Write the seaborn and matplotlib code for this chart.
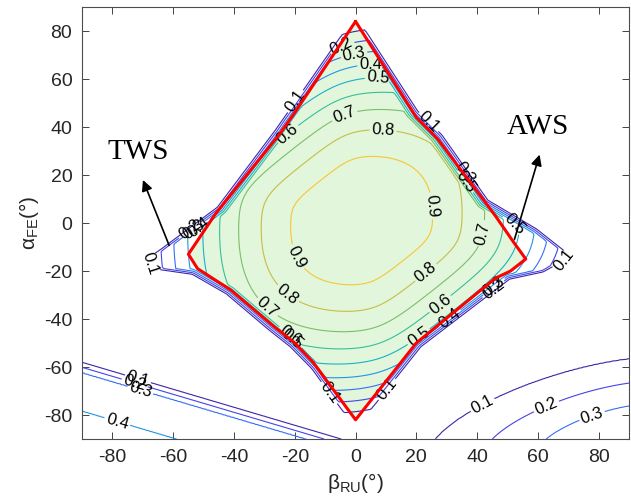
import numpy as np
import matplotlib
matplotlib.use("Agg")
import matplotlib.pyplot as plt
from matplotlib.path import Path
from matplotlib.colors import LinearSegmentedColormap, Normalize
import seaborn as sns

# red workspace outline (beta_RU, alpha_FE), degrees
red_beta = [0, 20, 27, 46, 52, 56, 51, 46, 20, 0, -14, -20, -27, -41, -52, -55, -46, -25, -20, 0]
red_alpha = [84, 44, 35, 3, -8, -15, -20, -23, -50, -82, -58, -50, -43, -28, -19, -13, 4, 37, 46, 84]

# outer edge of the contoured region (with the two thin wings)
dom_beta = [0, 21, 29, 44, 60, 72, 62, 51, 22, 0, -15, -22, -29, -43, -54, -65, -72, -64, -46, -27, -22]
dom_alpha = [88, 47, 37, 10, -2, -14, -21, -24, -52, -87, -61, -52, -45, -30, -22, -20, -17, -10, 7, 39, 48]

levels = [0.1, 0.2, 0.3, 0.4, 0.5, 0.6, 0.7, 0.8, 0.9]

# inner plateau (rounded square, cut on the NW/SE diagonal)
bump_center = (2, 1)
bump_half = (74, 85)
bump_power = 2.7
bump_diag = 68
edge_slope = 0.15

# lower-left band: offsets of the 0.1/0.2/0.3/0.4 lines from the 0.1 line
bl_line = [(-90, -58), (-10, -88)]
bl_offset = [-8, 0, 2, 4, 19, 40]
bl_value = [-0.5, 0.1, 0.2, 0.3, 0.4, 0.45]

# lower-right arcs around the corner
br_corner = (95, -95)
br_half = (71, 39)
br_radius = [0.3, 0.5, 0.74, 1.0, 1.3]
br_value = [0.35, 0.3, 0.2, 0.1, -0.3]

parula = ['#3e26a8', '#4748f0', '#2c7cf5', '#1ca2dd', '#1bbbb5',
          '#5cc277', '#b5bd4a', '#f5c038', '#f9fb0e']
cmap = LinearSegmentedColormap.from_list('parula', parula)
norm = Normalize(0.1, 1.0)

# label spots for each level
label_spots = {
    0.1: [(-19, 50), (24, 42), (-68, -17), (69, -16), (-10, -72), (10, -69), (-72, -67), (43, -78)],
    0.2: [(-5, 75), (-73, -68), (63, -77), (45, -27), (-55, -2)],
    0.3: [(-1, 73), (-71, -70), (78, -81), (47, -29), (-53, -3), (36, 21)],
    0.4: [(5, 66), (30, -38), (-78, -81), (-52, -1)],
    0.5: [(7.5, 60), (20, -46), (52, -1), (-22, -50), (38, 19)],
    0.6: [(-21, 35), (28, -34), (-23, -49)],
    0.7: [(-4, 46), (-29, -35), (48, -6)],
    0.8: [(9, 38), (24, -22), (-22, -29)],
    0.9: [(24, 7), (-19, -14)],
}

sns.set_theme(style="ticks")
plt.rcParams["font.family"] = ["Liberation Sans", "DejaVu Sans"]
plt.rcParams["mathtext.default"] = "regular"
plt.rcParams["axes.unicode_minus"] = False

bb, aa = np.meshgrid(np.arange(-90, 90.25, 0.5), np.arange(-90, 90.25, 0.5))

# inner plateau
x0 = bb - bump_center[0]
y0 = aa - bump_center[1]
sq = ((np.abs(x0) / bump_half[0]) ** bump_power
      + (np.abs(y0) / bump_half[1]) ** bump_power) ** (2 / bump_power)
dg = ((y0 - x0) / np.sqrt(2) / bump_diag) ** 2
v_in = 1 - (sq ** 6 + dg ** 6) ** (1 / 6)

# signed distance to the domain edge
pts = np.column_stack([bb.ravel(), aa.ravel()])
vx = np.array(dom_beta, float)
vy = np.array(dom_alpha, float)
dist = np.full(len(pts), np.inf)
for x1, y1, x2, y2 in zip(vx, vy, np.roll(vx, -1), np.roll(vy, -1)):
    dx, dy = x2 - x1, y2 - y1
    tt = np.clip(((pts[:, 0] - x1) * dx + (pts[:, 1] - y1) * dy) / (dx * dx + dy * dy), 0, 1)
    dist = np.minimum(dist, np.hypot(pts[:, 0] - x1 - tt * dx, pts[:, 1] - y1 - tt * dy))
inside = Path(np.column_stack([vx, vy])).contains_points(pts)
sdist = np.where(inside, dist, -dist).reshape(bb.shape)
v_dom = np.minimum(v_in, edge_slope * sdist)

# lower-left band
p0 = np.array(bl_line[0], float)
dvec = np.array(bl_line[1], float) - p0
n = np.array([dvec[1], -dvec[0]]) / np.hypot(*dvec)
d = (bb - p0[0]) * n[0] + (aa - p0[1]) * n[1]
v_bl = np.interp(d, bl_offset, bl_value)

# lower-right arcs
e = ((np.abs(bb - br_corner[0]) / br_half[0]) ** 1.5
     + (np.abs(aa - br_corner[1]) / br_half[1]) ** 1.5) ** (1 / 1.5)
v_br = np.interp(e, br_radius, br_value)

Z = np.maximum.reduce([v_dom, v_bl, v_br])

fig = plt.figure(figsize=(6.31, 5.0), dpi=100)
ax = fig.add_axes([0.130, 0.122, 0.867, 0.864])

ax.fill(red_beta, red_alpha, color='#e2f6dc', lw=0, zorder=1)

# one contour set per level, so each can get its own label spots
for lev in levels:
    cs = ax.contour(bb, aa, Z, levels=[lev], colors=[cmap(norm(lev))],
                    linewidths=0.8, zorder=2)
    ax.clabel(cs, manual=label_spots[lev], inline=True, inline_spacing=2,
              fontsize=12, colors='black', fmt='%.1f')

sns.lineplot(x=red_beta, y=red_alpha, sort=False, estimator=None,
             color='#ff0000', linewidth=2.2, ax=ax, zorder=4)

# annotations
ax.text(-71.6, 29.6, 'TWS', fontfamily='Liberation Serif', fontsize=21,
        ha='center', va='center', color='black')
ax.text(60, 40, 'AWS', fontfamily='Liberation Serif', fontsize=21,
        ha='center', va='center', color='black')
arrow = dict(arrowstyle='-|>', color='black', lw=1.2, mutation_scale=16)
ax.annotate('', xy=(-70.3, 19), xytext=(-61, -10.4), arrowprops=arrow)
ax.annotate('', xy=(60.8, 29.6), xytext=(52, -8), arrowprops=arrow)

ax.set_xlim(-90, 90)
ax.set_ylim(-90, 90)
ax.set_xticks(range(-80, 81, 20))
ax.set_yticks(range(-80, 81, 20))
ax.tick_params(direction='in', top=True, right=True, length=5, width=0.6,
               labelsize=14, colors='#262626', pad=7)
for sp in ax.spines.values():
    sp.set_visible(True)
    sp.set_color('#4d4d4d')
    sp.set_linewidth(0.8)

ax.set_xlabel(r'β$_{RU}$(°)', fontsize=15, labelpad=4, color='#262626')
ax.set_ylabel(r'α$_{FE}$(°)', fontsize=15, labelpad=2, color='#262626')

fig.savefig('out.png', dpi=100)
